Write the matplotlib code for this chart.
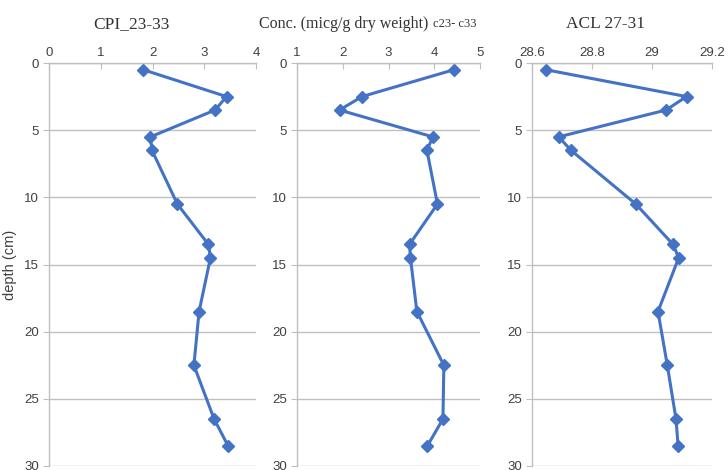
import matplotlib.pyplot as plt
from matplotlib.ticker import FuncFormatter, MultipleLocator

# depth of each sample (cm)
depth = [0.5, 2.5, 3.5, 5.5, 6.5, 10.5, 13.5, 14.5, 18.5, 22.5, 26.5, 28.5]

# values read from the three profiles
cpi = [1.82, 3.43, 3.21, 1.96, 1.99, 2.48, 3.08, 3.12, 2.90, 2.80, 3.19, 3.46]
conc = [4.43, 2.42, 1.93, 3.97, 3.84, 4.07, 3.46, 3.48, 3.62, 4.21, 4.19, 3.85]
acl = [28.646, 29.115, 29.047, 28.689, 28.730, 28.946, 29.070, 29.089,
       29.020, 29.051, 29.080, 29.087]

x_limits = [(0, 4), (1, 5), (28.6, 29.2)]
x_steps = [1, 1, 0.2]

LINE = '#4472C4'
GRID = '#BFBFBF'
TXT = '#404040'

W, H = 728, 470
fig = plt.figure(figsize=(W / 100, H / 100), dpi=100)

boxes = [(49, 256), (297, 480), (532, 712)]
top, bottom = 63, 466

axes = []
for (x0, x1), vals, lim, step in zip(boxes, [cpi, conc, acl], x_limits, x_steps):
    ax = fig.add_axes([x0 / W, 1 - bottom / H, (x1 - x0) / W, (bottom - top) / H])
    ax.plot(vals, depth, color=LINE, lw=2.2, marker='D', ms=6, mfc=LINE, mec=LINE)
    ax.set_xlim(*lim)
    ax.set_ylim(30, 0)
    ax.xaxis.set_major_locator(MultipleLocator(step))
    ax.yaxis.set_major_locator(MultipleLocator(5))
    ax.xaxis.set_major_formatter(FuncFormatter(lambda v, p: f'{round(v, 2):g}'))
    ax.xaxis.tick_top()
    ax.tick_params(axis='x', direction='in', length=4, color=GRID, labelsize=9.5,
                   labelcolor=TXT, pad=3)
    ax.tick_params(axis='y', direction='out', length=4, color=GRID, labelsize=9.5,
                   labelcolor=TXT, pad=3)
    for lbl in ax.get_xticklabels() + ax.get_yticklabels():
        lbl.set_family('Liberation Sans')
    ax.grid(axis='y', color=GRID, lw=1)
    ax.set_axisbelow(True)
    for s in ['right', 'bottom']:
        ax.spines[s].set_visible(False)
    for s in ['left', 'top']:
        ax.spines[s].set_color(GRID)
        ax.spines[s].set_linewidth(1)
    axes.append(ax)

axes[0].set_ylabel('depth (cm)', fontsize=10.5, color=TXT, family='Liberation Sans',
                   labelpad=5)

serif = 'Liberation Serif'
fig.text(131 / W, 1 - 24 / H, 'CPI_23-33', ha='center', va='center',
         fontsize=12.5, family=serif, color='#333333')
fig.text(432 / W, 1 - 24 / H, 'Conc. (micg/g dry weight) ', ha='right', va='center',
         fontsize=11.5, family=serif, color='#333333')
fig.text(433 / W, 1 - 24 / H, 'c23- c33', ha='left', va='center',
         fontsize=9, family=serif, color='#333333')
fig.text(606 / W, 1 - 24 / H, 'ACL 27-31', ha='center', va='center',
         fontsize=12.5, family=serif, color='#333333')

fig.savefig('out.png', dpi=100, facecolor='white')
